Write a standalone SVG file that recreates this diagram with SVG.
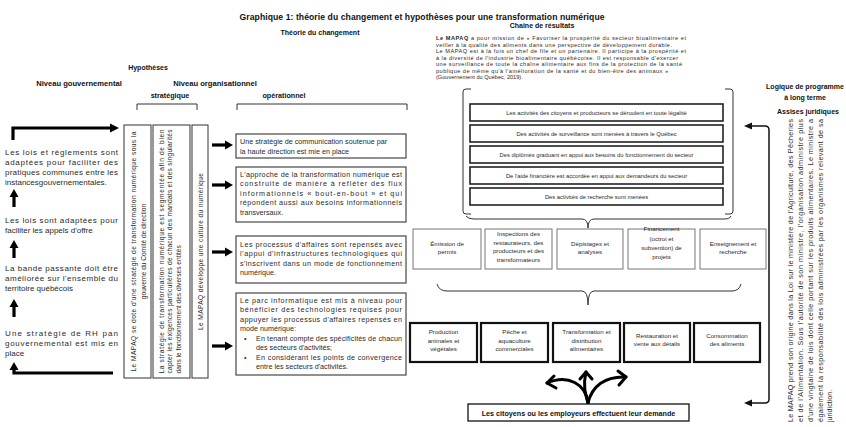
<svg xmlns="http://www.w3.org/2000/svg" width="846" height="427" viewBox="0 0 846 427">
<defs>
<style>
text{font-family:"Liberation Sans",Arial,sans-serif;fill:#2a2a2a}
.h{font-weight:bold;fill:#111}
.l{font-size:8px}
.o{font-size:7.2px}
.v{font-size:6.6px}
.p{font-size:5.6px}
.s{font-size:5.8px}
.m{font-size:6.2px}
.c{text-anchor:middle}
.ob{fill:#fff;stroke:#555;stroke-width:1.3}
.sb{fill:#fff;stroke:#333;stroke-width:1}
.k5{fill:#fff;stroke:#222;stroke-width:1.6}
.mid{fill:#fff;stroke:#777;stroke-width:1}
.bot{fill:#fff;stroke:#111;stroke-width:2.2}
.ln{fill:none;stroke:#333;stroke-width:1}
.th{fill:none;stroke:#000;stroke-width:3.2}
.cv{fill:none;stroke:#000;stroke-width:3;stroke-linecap:round;stroke-linejoin:round}
</style>
</defs>

<g id="titles">
<text class="h c" x="422" y="20" font-size="8.6" textLength="365">Graphique 1: théorie du changement et hypothèses pour une transformation numérique</text>
<text class="h c" x="542" y="28" font-size="7">Chaîne de résultats</text>
<text class="h c" x="320" y="35" font-size="7">Théorie du changement</text>
<text class="h c" x="148" y="70" font-size="7">Hypothèses</text>
<text class="h c" x="79" y="86" font-size="7.6">Niveau gouvernemental</text>
<text class="h c" x="215" y="86" font-size="7.6">Niveau organisationnel</text>
<text class="h c" x="170" y="98" font-size="7.2">stratégique</text>
<text class="h c" x="284" y="98" font-size="7.2">opérationnel</text>
<text class="h c" x="805" y="89" font-size="7">Logique de programme</text>
<text class="h c" x="805" y="100" font-size="7">à long terme</text>
<text class="h c" x="808" y="114" font-size="7">Assises juridiques</text>
</g>

<g id="brackets" class="ln">
<path d="M137,110 V104 H197 V110"/>
<path d="M237,110 V104 H407 V110"/>
</g>

<g id="gov-level">
<text class="l" x="5" y="155" textLength="113">Les lois et règlements sont</text>
<text class="l" x="5" y="165" textLength="113">adaptées pour faciliter des</text>
<text class="l" x="5" y="175" textLength="113">pratiques communes entre les</text>
<text class="l" x="5" y="185">instancesgouvernementales.</text>
<text class="l" x="5" y="223" textLength="113">Les lois sont adaptées pour</text>
<text class="l" x="5" y="233">faciliter les appels d'offre</text>
<text class="l" x="5" y="271" textLength="113">La bande passante doit être</text>
<text class="l" x="5" y="281" textLength="113">améliorée sur l'ensemble du</text>
<text class="l" x="5" y="291">territoire québécois</text>
<text class="l" x="5" y="336" textLength="113">Une stratégie de RH pan</text>
<text class="l" x="5" y="346" textLength="113">gouvernemental est mis en</text>
<text class="l" x="5" y="356">place</text>
</g>

<g id="gov-arrows">
<path class="th" d="M13,140 V128 H111"/>
<polygon points="110,123.5 119,128 110,132.5"/>
<path class="th" d="M14,207 V196"/>
<polygon points="9.5,197 14,189 18.5,197"/>
<path class="th" d="M14,258 V247"/>
<polygon points="9.5,248 14,240 18.5,248"/>
<path class="th" d="M14,317 V306"/>
<polygon points="9.5,307 14,299 18.5,307"/>
<path class="th" d="M113,373 H14 V369"/>
<polygon points="9.5,370 14,362 18.5,370"/>
</g>

<g id="strat-1">
<rect class="sb" x="124" y="125" width="27" height="253"/>
<text class="v c" transform="translate(135.5,251.5) rotate(-90)" textLength="240">Le MAPAQ se dote d'une stratégie de transformation numérique sous la</text>
<text class="v c" transform="translate(145.5,251.5) rotate(-90)">gouverne du Comité de direction</text>
</g>
<g id="strat-2">
<rect class="sb" x="153" y="125" width="37" height="253"/>
<text class="v c" transform="translate(163.5,251.5) rotate(-90)" textLength="244">La stratégie de transformation numérique est segmentée afin de bien</text>
<text class="v c" transform="translate(171.5,251.5) rotate(-90)" textLength="244">capter les exigences particulières de chacun des mandats et des singularités</text>
<text class="v" transform="translate(180.5,373.5) rotate(-90)">dans le fonctionnement des diverses entités</text>
</g>
<g id="strat-3">
<rect class="sb" x="192" y="125" width="16" height="253"/>
<text class="v c" transform="translate(202.5,251.5) rotate(-90)" textLength="157">Le MAPAQ développe une culture du numérique</text>
</g>

<g id="connectors">
<path class="th" d="M212,145 H226"/><polygon points="225,140.5 233,145 225,149.5"/>
<path class="th" d="M212,185 H226"/><polygon points="225,180.5 233,185 225,189.5"/>
<path class="th" d="M212,252 H226"/><polygon points="225,247.5 233,252 225,256.5"/>
<path class="th" d="M212,346 H226"/><polygon points="225,341.5 233,346 225,350.5"/>
<path class="ln" d="M471,89 H466 Q463,89 463,92 V211 Q463,214 466,214 H471"/>
<path class="ln" d="M725,89 H730 Q733,89 733,92 V211 Q733,214 730,214 H725"/>
<path class="ln" d="M466,216 Q468,219 474,219 H582 Q588,219 588,228 Q588,219 594,219 H724 Q730,219 731,216"/>
<path class="ln" d="M437,284 Q439,291 447,291 H582 Q588,291 588,305 Q588,291 594,291 H732 Q739,291 741,284"/>
<path class="cv" d="M588,403 C586,384 568,374 547,383"/>
<path class="cv" d="M547,383 L554,376 M547,383 L556,388"/>
<path class="cv" d="M588,403 C585,393 583,385 586,372"/>
<path class="cv" d="M586,372 L580,379 M586,372 L592,379"/>
<path class="cv" d="M588,403 C592,386 605,376 626,377"/>
<path class="cv" d="M626,377 L618,371 M626,377 L619,385"/>
<path fill="none" stroke="#111" stroke-width="1.5" d="M752,126 H765 Q769,126 769,130 V399 Q769,403 765,403 H752"/>
<polygon points="752,122.5 744,126 752,129.5" fill="#111"/>
<polygon points="752,399.5 744,403 752,406.5" fill="#111"/>
</g>

<g id="op-1">
<rect class="ob" x="236" y="134" width="170" height="24"/>
<text class="o" x="240" y="144">Une stratégie de communication soutenue par</text>
<text class="o" x="240" y="153.5">la haute direction est mie en place</text>
</g>
<g id="op-2">
<rect class="ob" x="236" y="167" width="170" height="55"/>
<text class="o" x="240" y="177" textLength="162">L'approche de la transformation numérique est</text>
<text class="o" x="240" y="186.4" textLength="162">construite de manière à refléter des flux</text>
<text class="o" x="240" y="195.8" textLength="162">informationnels « bout-en-bout » et qui</text>
<text class="o" x="240" y="205.2" textLength="162">répondent aussi aux besoins informationnels</text>
<text class="o" x="240" y="214.6">transversaux.</text>
</g>
<g id="op-3">
<rect class="ob" x="236" y="236" width="170" height="47"/>
<text class="o" x="240" y="246.5" textLength="162">Les processus d'affaires sont repensés avec</text>
<text class="o" x="240" y="256" textLength="162">l'appui d'infrastructures technologiques qui</text>
<text class="o" x="240" y="265.5" textLength="162">s'inscrivent dans un mode de fonctionnement</text>
<text class="o" x="240" y="275">numérique.</text>
</g>
<g id="op-4">
<rect class="ob" x="236" y="293" width="170" height="82"/>
<text class="o" x="240" y="302.5" textLength="162">Le parc informatique est mis à niveau pour</text>
<text class="o" x="240" y="312" textLength="162">bénéficier des technologies requises pour</text>
<text class="o" x="240" y="321.5" textLength="162">appuyer les processus d'affaires repensés en</text>
<text class="o" x="240" y="331">mode numérique:</text>
<text class="o" x="244" y="340.5">•</text>
<text class="o" x="256" y="340.5" textLength="146">En tenant compte des spécificités de chacun</text>
<text class="o" x="256" y="350">des secteurs d'activités;</text>
<text class="o" x="244" y="359.5">•</text>
<text class="o" x="256" y="359.5" textLength="146">En considérant les points de convergence</text>
<text class="o" x="256" y="369">entre les secteurs d'activités.</text>
</g>

<g id="mission">
<text class="p" x="436" y="40" textLength="250"><tspan font-weight="bold">Le MAPAQ</tspan> a pour mission de « Favoriser la prospérité du secteur bioalimentaire et</text>
<text class="p" x="436" y="46.5" textLength="236">veiller à la qualité des aliments dans une perspective de développement durable.</text>
<text class="p" x="436" y="53" textLength="250">Le MAPAQ est à la fois un chef de file et un partenaire. Il participe à la prospérité et</text>
<text class="p" x="436" y="59.5" textLength="242">à la diversité de l'industrie bioalimentaire québécoise. Il est responsable d'exercer</text>
<text class="p" x="436" y="66" textLength="246">une surveillance de toute la chaîne alimentaire aux fins de la protection de la santé</text>
<text class="p" x="436" y="72.5" textLength="232">publique de même qu'à l'amélioration de la santé et du bien-être des animaux »</text>
<text class="p" x="436" y="79">(Gouvernement du Québec, 2019).</text>
</g>

<g id="res-1"><rect class="k5" x="470" y="104" width="253" height="17"/><text class="s c" x="596.5" y="114.5">Les activités des citoyens et producteurs se déroulent en toute légalité</text></g>
<g id="res-2"><rect class="k5" x="470" y="125" width="253" height="17"/><text class="s c" x="596.5" y="135.5">Des activités de surveillance sont menées à travers le Québec</text></g>
<g id="res-3"><rect class="k5" x="470" y="146" width="253" height="17"/><text class="s c" x="596.5" y="156.5">Des diplômés graduant en appui aux besoins du fonctionnement du secteur</text></g>
<g id="res-4"><rect class="k5" x="470" y="167" width="253" height="17"/><text class="s c" x="596.5" y="177.5">De l'aide financière est accordée en appui aux demandeurs du secteur</text></g>
<g id="res-5"><rect class="k5" x="470" y="188" width="253" height="17"/><text class="s c" x="596.5" y="198.5">Des activités de recherche sont menées</text></g>

<g id="act-1"><rect class="mid" x="413" y="229" width="68" height="40"/><text class="m c" x="447" y="246">Émission de</text><text class="m c" x="447" y="254">permis</text></g>
<g id="act-2"><rect class="mid" x="485" y="229" width="67" height="40"/><text class="m c" x="518.5" y="236">Inspections des</text><text class="m c" x="518.5" y="244.5">restaurateurs, des</text><text class="m c" x="518.5" y="253">producteurs et des</text><text class="m c" x="518.5" y="261.5">transformateurs</text></g>
<g id="act-3"><rect class="mid" x="557" y="229" width="66" height="40"/><text class="m c" x="590" y="246">Dépistages et</text><text class="m c" x="590" y="254">analyses</text></g>
<g id="act-4"><rect class="mid" x="628" y="229" width="67" height="40"/><text class="m c" x="661.5" y="231">Financement</text><text class="m c" x="661.5" y="240.5">(octroi et</text><text class="m c" x="661.5" y="249.5">subvention) de</text><text class="m c" x="661.5" y="258.5">projets</text></g>
<g id="act-5"><rect class="mid" x="700" y="229" width="66" height="40"/><text class="m c" x="733" y="246">Enseignement et</text><text class="m c" x="733" y="254">recherche</text></g>

<g id="sec-1"><rect class="bot" x="410" y="323" width="67" height="39"/><text class="m c" x="443.5" y="334">Production</text><text class="m c" x="443.5" y="342.5">animales et</text><text class="m c" x="443.5" y="351">végétales</text></g>
<g id="sec-2"><rect class="bot" x="481" y="323" width="67" height="39"/><text class="m c" x="514.5" y="334">Pêche et</text><text class="m c" x="514.5" y="342.5">aquaculture</text><text class="m c" x="514.5" y="351">commerciales</text></g>
<g id="sec-3"><rect class="bot" x="553" y="323" width="67" height="39"/><text class="m c" x="586.5" y="334">Transformation et</text><text class="m c" x="586.5" y="342.5">distribution</text><text class="m c" x="586.5" y="351">alimentaires</text></g>
<g id="sec-4"><rect class="bot" x="624" y="323" width="66" height="39"/><text class="m c" x="657" y="337.5">Restauration et</text><text class="m c" x="657" y="346">vente aux détails</text></g>
<g id="sec-5"><rect class="bot" x="694" y="323" width="66" height="39"/><text class="m c" x="727" y="337.5">Consommation</text><text class="m c" x="727" y="346">des aliments</text></g>

<g id="demand"><rect fill="#fff" stroke="#111" stroke-width="1.3" x="468" y="404" width="221" height="17"/><text class="h c" x="578.5" y="415.5" font-size="7.2">Les citoyens ou les employeurs effectuent leur demande</text></g>

<g id="legal">
<text class="o" transform="translate(792.5,422) rotate(-90)" textLength="303">Le MAPAQ prend son origine dans la Loi sur le ministère de l'Agriculture, des Pêcheries</text>
<text class="o" transform="translate(802.5,422) rotate(-90)" textLength="303">et de l'Alimentation. Sous l'autorité de son ministre, l'organisation administre plus</text>
<text class="o" transform="translate(812.5,422) rotate(-90)" textLength="303">d'une vingtaine de lois dont celle portant sur les produits alimentaires. Le ministre a</text>
<text class="o" transform="translate(822.5,422) rotate(-90)" textLength="303">également la responsabilité des lois administrées par les organismes relevant de sa</text>
<text class="o" transform="translate(832,422) rotate(-90)">juridiction.</text>
</g>
</svg>
